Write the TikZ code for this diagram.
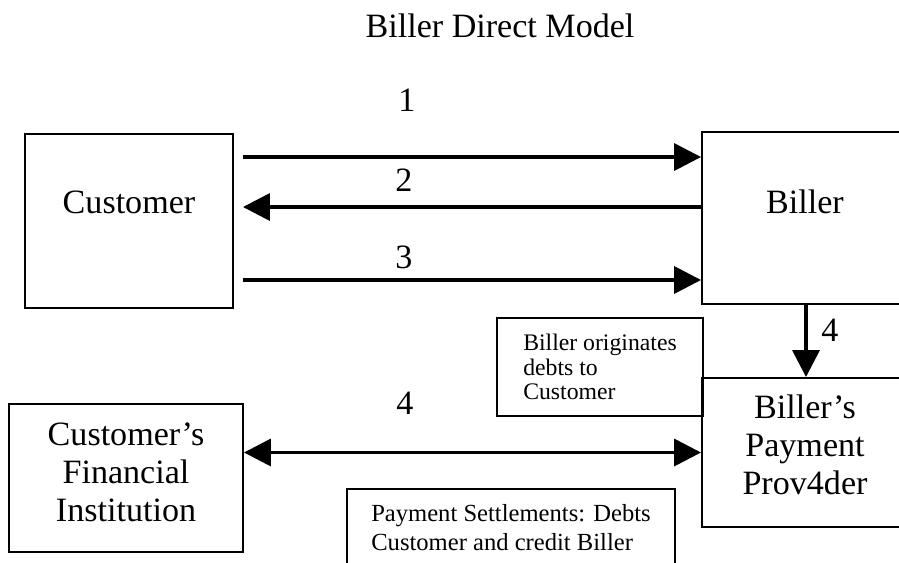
\documentclass[tikz,border=0pt]{standalone}
\usepackage{fontspec}
\setmainfont{Liberation Serif}
\usetikzlibrary{arrows.meta}

\tikzset{
  box/.style={draw, line width=1.1pt, inner sep=0pt},
  note/.style={draw, line width=1pt, align=left, inner sep=0pt},
  big/.style={font=\fontsize{19.4}{21.5}\selectfont, align=center},
  tip/.tip={Triangle[length=0.54cm, width=0.54cm]},
  flow/.style={line width=2pt, -tip},
  flowboth/.style={line width=2pt, tip-tip},
}

\begin{document}
\begin{tikzpicture}[x=0.02cm, y=-0.02cm]
  \useasboundingbox (0,0) rectangle (899,562);

  % title
  \node[big] (title) at (500,26) {Biller Direct Model};

  % boxes
  \node[box, minimum width=4.16cm, minimum height=3.48cm] (cust) at (129,221) {};
  \node[box, minimum width=4.16cm, minimum height=3.44cm] (biller) at (806,218) {};
  \node[box, minimum width=4.16cm, minimum height=2.98cm] (prov) at (806,452.5) {};
  \node[box, minimum width=4.68cm, minimum height=2.96cm] (fi) at (126,478) {};

  % box texts
  \node[big] (custtext) at (129,202) {Customer};
  \node[big] (billertext) at (805,202) {Biller};
  \node[big] (provtext) at (805,445) {Biller's\\Payment\\Prov4der};
  \node[big] (fitext) at (126,472.5) {Customer's\\Financial\\Institution};

  % notes
  \node[note, font=\fontsize{13.5}{14}\selectfont, minimum width=4.12cm, minimum height=1.96cm]
    (orig) at (600,367) {Biller originates\\debts to\\Customer};
  \node[note, font=\fontsize{14}{16.5}\selectfont, minimum width=6.56cm, minimum height=1.54cm]
    (settle) at (511,527.5) {Payment Settlements: Debts\\Customer and credit Biller};

  % numbers
  \node[big] (one) at (407,100) {1};
  \node[big] (two) at (404,180) {2};
  \node[big] (three) at (404,257) {3};
  \node[big] (four) at (405,403) {4};
  \node[big] (fourb) at (830,330) {4};

  % arrows
  \coordinate (a1) at ([yshift=1.28cm]cust.east);
  \coordinate (a2) at ([yshift=0.28cm]cust.east);
  \coordinate (a3) at ([yshift=-1.18cm]cust.east);
  \draw[flow, shorten <=0.18cm] (a1) -- (a1 -| biller.west);
  \draw[flow, shorten >=0.18cm] (a2 -| biller.west) -- (a2);
  \draw[flow, shorten <=0.18cm] (a3) -- (a3 -| biller.west);
  \draw[flow] (biller.south) -- (prov.north);
  \draw[flowboth] (fi.east |- prov.west) -- (prov.west);

\end{tikzpicture}
\end{document}
